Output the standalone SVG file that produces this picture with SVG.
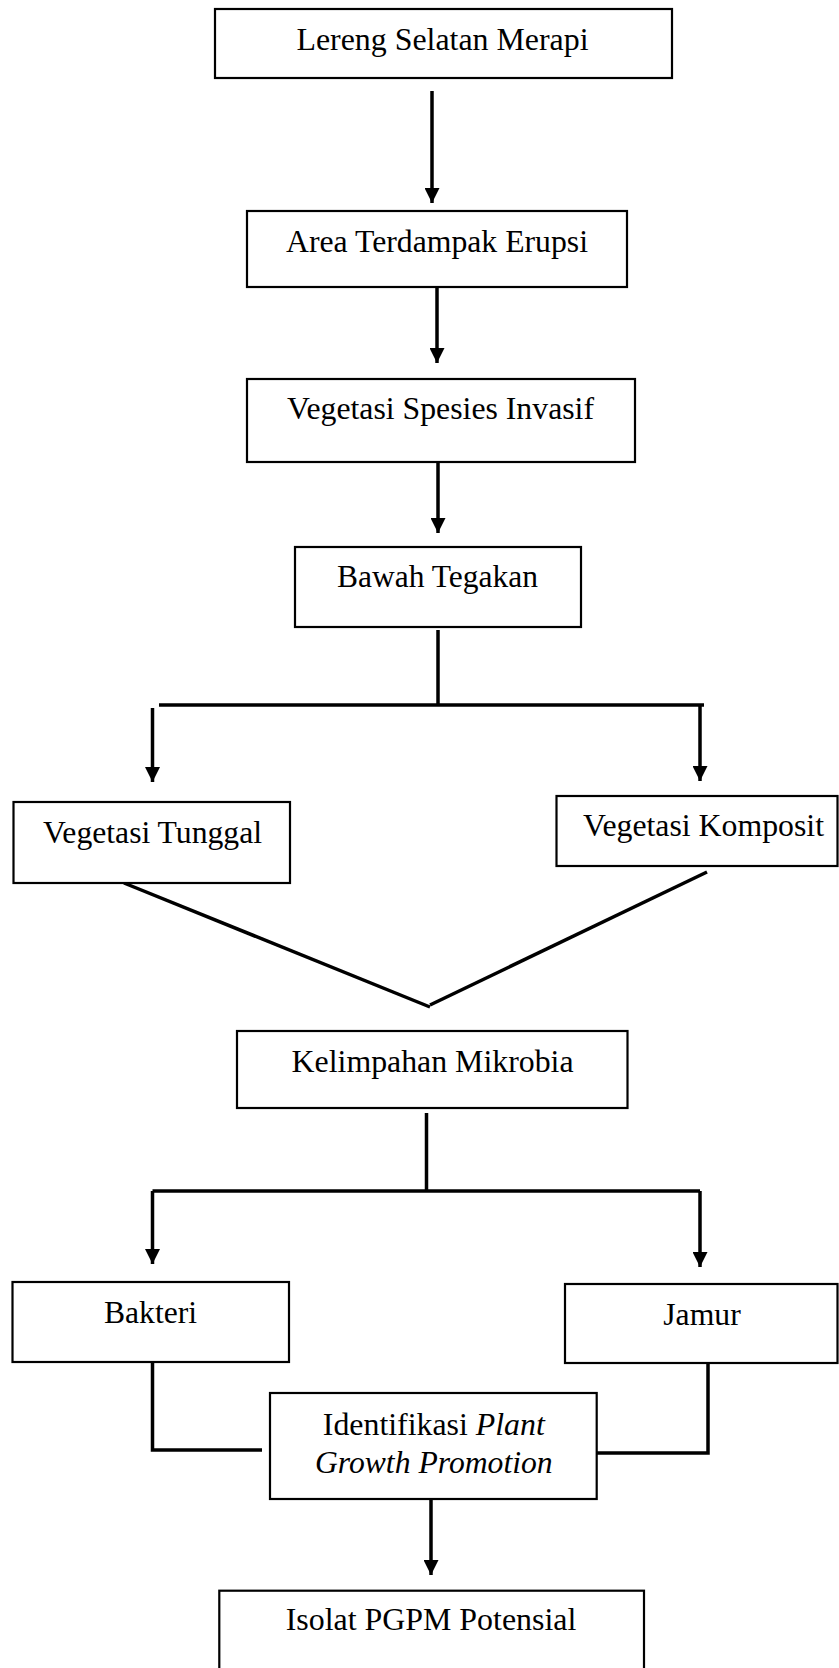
<svg xmlns="http://www.w3.org/2000/svg" width="839" height="1668" viewBox="0 0 839 1668">
<style>
.box{fill:#fff;stroke:#000;stroke-width:2.2}
.t{font-family:"Liberation Serif","Times New Roman",serif;font-size:31px;fill:#000;text-anchor:middle}
.i{font-style:italic}
.c{fill:none;stroke:#000;stroke-width:3.5}
</style>
<defs>
<marker id="ah" viewBox="0 0 15 15" markerWidth="15" markerHeight="15" markerUnits="userSpaceOnUse" refX="15" refY="7.5" orient="auto">
<path d="M0,0 L15,7.5 L0,15 z" fill="#000"/>
</marker>
</defs>
<g id="connectors">
<line class="c" x1="432" y1="91" x2="432" y2="203" marker-end="url(#ah)"/>
<line class="c" x1="437" y1="287" x2="437" y2="363" marker-end="url(#ah)"/>
<line class="c" x1="438" y1="462" x2="438" y2="533" marker-end="url(#ah)"/>
<line class="c" x1="438" y1="630" x2="438" y2="705"/>
<line class="c" x1="159" y1="705" x2="704" y2="705"/>
<line class="c" x1="152.5" y1="708" x2="152.5" y2="782" marker-end="url(#ah)"/>
<line class="c" x1="700" y1="705" x2="700" y2="781" marker-end="url(#ah)"/>
<polyline class="c" points="124,883 430,1007"/>
<polyline class="c" points="707,872 430,1005"/>
<line class="c" x1="426.5" y1="1113" x2="426.5" y2="1191"/>
<line class="c" x1="152.5" y1="1191" x2="700" y2="1191"/>
<line class="c" x1="152.5" y1="1191" x2="152.5" y2="1264" marker-end="url(#ah)"/>
<line class="c" x1="700" y1="1191" x2="700" y2="1267" marker-end="url(#ah)"/>
<polyline class="c" points="152.5,1362 152.5,1450 262,1450"/>
<polyline class="c" points="597,1453 708,1453 708,1363"/>
<line class="c" x1="431" y1="1499" x2="431" y2="1575" marker-end="url(#ah)"/>
</g>
<g id="n1">
<rect class="box" x="215" y="9" width="457" height="69"/>
<text class="t" x="442.5" y="50" textLength="292" lengthAdjust="spacingAndGlyphs">Lereng Selatan Merapi</text>
</g>
<g id="n2">
<rect class="box" x="247" y="211" width="380" height="76"/>
<text class="t" x="437" y="252" textLength="302" lengthAdjust="spacingAndGlyphs">Area Terdampak Erupsi</text>
</g>
<g id="n3">
<rect class="box" x="247" y="379" width="388" height="83"/>
<text class="t" x="440.5" y="419" textLength="307" lengthAdjust="spacingAndGlyphs">Vegetasi Spesies Invasif</text>
</g>
<g id="n4">
<rect class="box" x="295" y="547" width="286" height="80"/>
<text class="t" x="437.5" y="587" textLength="201" lengthAdjust="spacingAndGlyphs">Bawah Tegakan</text>
</g>
<g id="n5">
<rect class="box" x="13.5" y="802" width="276.5" height="81"/>
<text class="t" x="152.5" y="843" textLength="219" lengthAdjust="spacingAndGlyphs">Vegetasi Tunggal</text>
</g>
<g id="n6">
<rect class="box" x="556.5" y="796" width="281" height="70"/>
<text class="t" x="703.5" y="836" textLength="241" lengthAdjust="spacingAndGlyphs">Vegetasi Komposit</text>
</g>
<g id="n7">
<rect class="box" x="237" y="1031" width="390.5" height="77"/>
<text class="t" x="432.6" y="1072" textLength="282" lengthAdjust="spacingAndGlyphs">Kelimpahan Mikrobia</text>
</g>
<g id="n8">
<rect class="box" x="12.5" y="1282" width="276.5" height="80"/>
<text class="t" x="150.5" y="1323" textLength="93" lengthAdjust="spacingAndGlyphs">Bakteri</text>
</g>
<g id="n9">
<rect class="box" x="565" y="1284" width="272.5" height="79"/>
<text class="t" x="702" y="1325" textLength="77.5" lengthAdjust="spacingAndGlyphs">Jamur</text>
</g>
<g id="n10">
<rect class="box" x="270" y="1393" width="326.7" height="106"/>
<text class="t" x="433.8" y="1435" textLength="222" lengthAdjust="spacingAndGlyphs">Identifikasi <tspan class="i">Plant</tspan></text>
<text class="t i" x="433.8" y="1473" textLength="237.7" lengthAdjust="spacingAndGlyphs">Growth Promotion</text>
</g>
<g id="n11">
<rect class="box" x="219.3" y="1590.7" width="424.7" height="100"/>
<text class="t" x="431" y="1630" textLength="290.7" lengthAdjust="spacingAndGlyphs">Isolat PGPM Potensial</text>
</g>
</svg>
